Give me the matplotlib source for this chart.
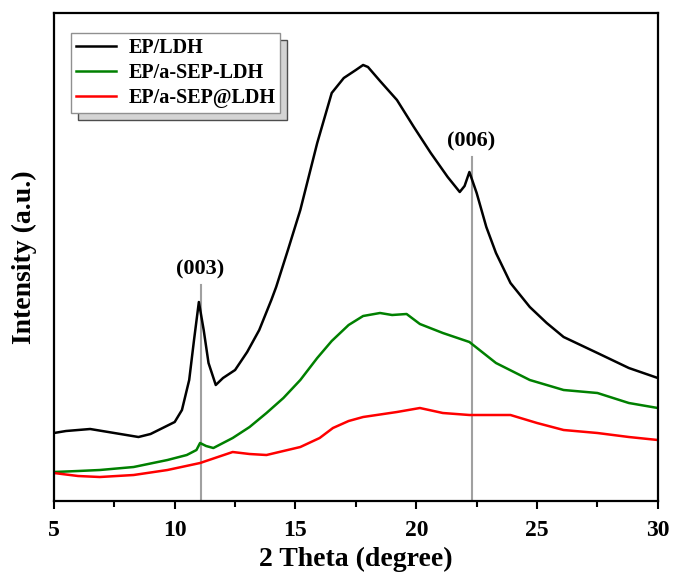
import matplotlib
matplotlib.use('Agg')
import matplotlib.pyplot as plt
from matplotlib.ticker import MultipleLocator

plt.rcParams['font.family'] = ['Liberation Serif', 'DejaVu Serif']
plt.rcParams['font.weight'] = 'bold'

# EP/LDH (black)
x_ldh = [5.0, 5.5, 6.0, 6.5, 7.0, 7.5, 8.0, 8.5, 9.0, 9.5, 10.0, 10.3, 10.6, 10.8,
         11.0, 11.2, 11.4, 11.7, 12.0, 12.5, 13.0, 13.5, 14.0, 14.2, 14.7, 15.2,
         15.9, 16.5, 17.0, 17.5, 17.8, 18.0, 18.5, 19.2, 19.9, 20.6, 21.3, 21.8,
         22.0, 22.2, 22.5, 22.9, 23.3, 23.9, 24.7, 25.4, 26.1, 27.5, 28.8, 30.0]
y_ldh = [68, 70, 71, 72, 70, 68, 66, 64, 67, 73, 79, 91, 121, 161,
         199, 171, 138, 116, 123, 131, 149, 171, 201, 214, 252, 291,
         358, 408, 423, 431, 436, 434, 420, 401, 374, 348, 324, 309,
         315, 329, 308, 274, 248, 218, 194, 178, 164, 148, 133, 123]

# EP/a-SEP-LDH (green)
x_mix = [5.0, 6.0, 6.9, 8.3, 9.7, 10.5, 10.9, 11.05, 11.3, 11.6, 12.4, 13.1, 13.8,
         14.5, 15.2, 15.9, 16.5, 17.2, 17.8, 18.5, 19.0, 19.6, 20.15, 21.1, 22.2, 23.3,
         24.7, 26.1, 27.5, 28.8, 30.0]
y_mix = [29, 30, 31, 34, 41, 46, 51, 58, 55, 53, 63, 74, 88,
         103, 121, 143, 160, 176, 185, 188, 186, 187, 177, 168, 159, 138,
         121, 111, 108, 98, 93]

# EP/a-SEP@LDH (red)
x_sep = [5.0, 6.0, 6.9, 8.3, 9.7, 11.05, 12.4, 13.1, 13.8, 15.2, 16.0, 16.55, 17.2,
         17.8, 19.2, 20.15, 21.1, 22.2, 23.9, 25.0, 26.1, 27.5, 28.8, 30.0]
y_sep = [28, 25, 24, 26, 31, 38, 49, 47, 46, 54, 63, 73, 80,
         84, 89, 93, 88, 86, 86, 78, 71, 68, 64, 61]

peak_pos = [11.07, 22.29]
peak_top = [216, 344]
peak_labels = ['(003)', '(006)']

fig = plt.figure(figsize=(6.74, 5.77), dpi=100)
ax = fig.add_axes([0.080, 0.1317, 0.896, 0.8458])

ax.plot(x_ldh, y_ldh, color='black', lw=1.8, label='EP/LDH')
ax.plot(x_mix, y_mix, color='#008000', lw=1.8, label='EP/a-SEP-LDH')
ax.plot(x_sep, y_sep, color='#ff0000', lw=1.8, label='EP/a-SEP@LDH')

# peak markers
for p, t, lab in zip(peak_pos, peak_top, peak_labels):
    ax.plot([p, p], [0, t], color='#a0a0a0', lw=1.5, zorder=0)
    ax.text(p, t + 6, lab, ha='center', va='bottom', fontsize=16, fontweight='bold')

ax.set_xlim(5, 30)
ax.set_ylim(0, 488)
ax.xaxis.set_major_locator(MultipleLocator(5))
ax.xaxis.set_minor_locator(MultipleLocator(2.5))
ax.tick_params(axis='x', which='major', direction='out', length=6, width=1.5, labelsize=17, pad=8)
ax.tick_params(axis='x', which='minor', direction='out', length=4, width=1.5)
ax.set_yticks([])
for s in ax.spines.values():
    s.set_linewidth(1.6)

ax.set_xlabel('2 Theta (degree)', fontsize=20, fontweight='bold', labelpad=4)
ax.set_ylabel('Intensity (a.u.)', fontsize=20, fontweight='bold', labelpad=12)

leg = ax.legend(loc='upper left', bbox_to_anchor=(0.028, 0.959), borderaxespad=0,
                fontsize=14.5, handlelength=2.0, handletextpad=0.6, labelspacing=0.25,
                borderpad=0.25, fancybox=False, edgecolor='#909090', framealpha=1,
                shadow={'ox': 5, 'oy': -5, 'facecolor': '#d4d4d4', 'alpha': 1})
leg.get_frame().set_linewidth(1.0)

fig.savefig('out.png', dpi=100)
